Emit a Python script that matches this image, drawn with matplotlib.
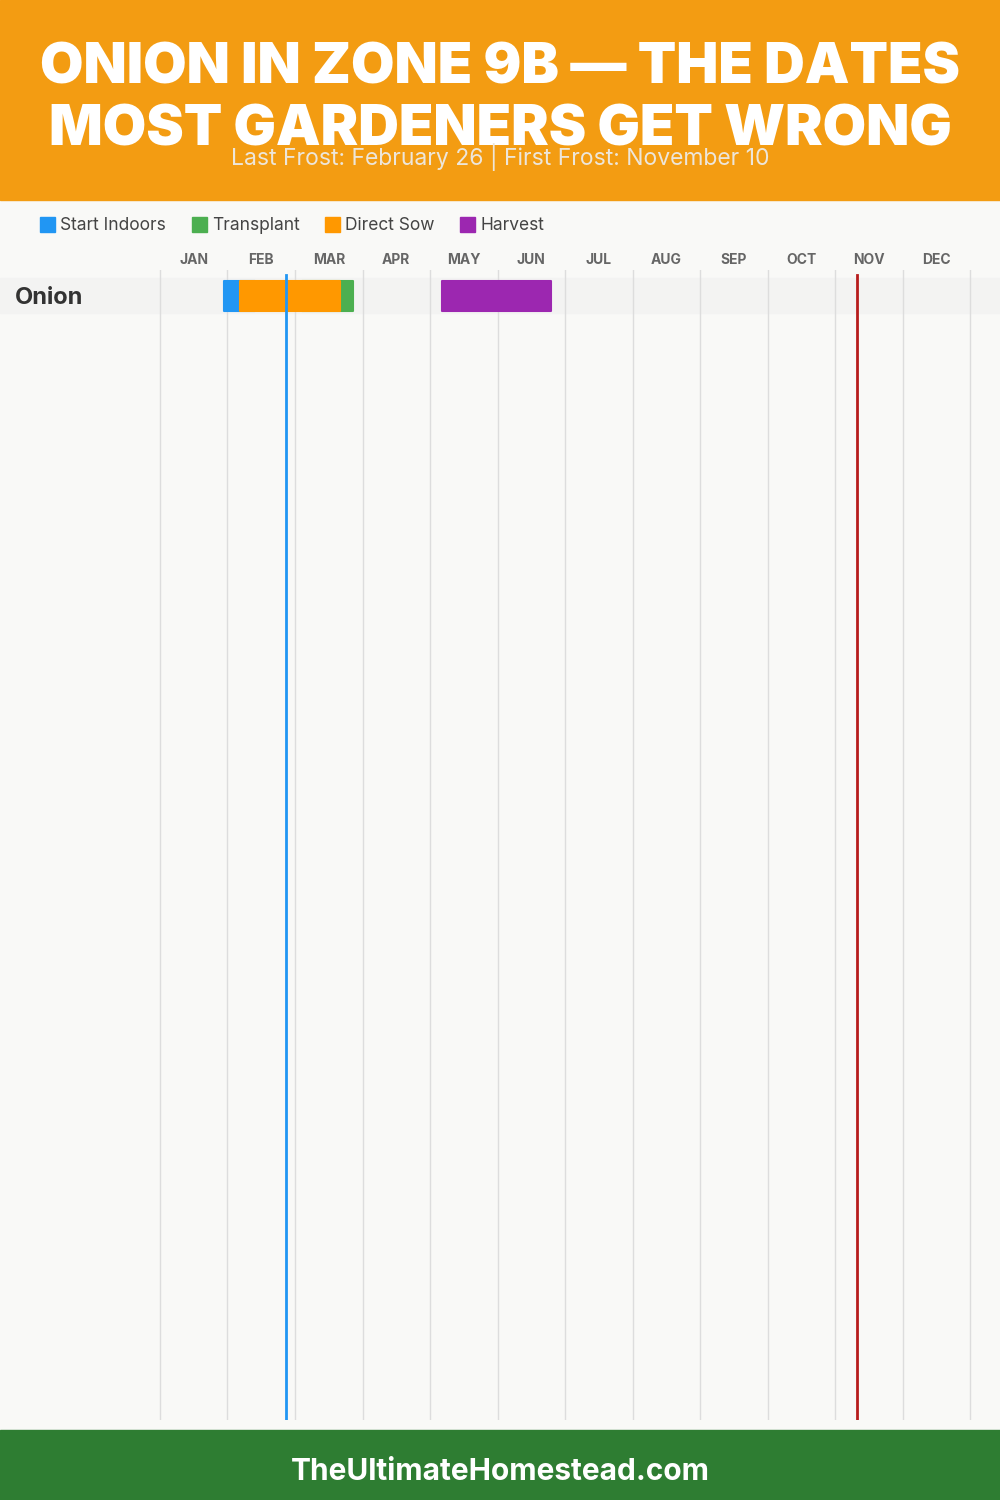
import matplotlib
matplotlib.use("Agg")
import matplotlib.pyplot as plt
from matplotlib.patches import Rectangle
import pandas as pd

# ---------------- data ----------------
crops = ["Onion"]
months = ["JAN", "FEB", "MAR", "APR", "MAY", "JUN", "JUL", "AUG", "SEP", "OCT", "NOV", "DEC"]
phases = ["Start Indoors", "Transplant", "Direct Sow", "Harvest"]
phase_colors = ["#2196F3", "#4CAF50", "#FF9800", "#9C27B0"]
start_indoors = [("2023-01-29", "2023-02-12")]
transplant = [("2023-03-05", "2023-03-28")]
direct_sow = [("2023-02-05", "2023-03-22")]
harvest = [("2023-05-07", "2023-06-25")]
last_frost = "2023-02-26"
first_frost = "2023-11-10"
title_lines = ["ONION IN ZONE 9B — THE DATES", "MOST GARDENERS GET WRONG"]
subtitle = "Last Frost: February 26 | First Frost: November 10"
footer = "TheUltimateHomestead.com"

W, H = 1000, 1500
BG = "#F9F9F7"
HEADER = "#F39C12"
FOOTER = "#2E7D32"
FONT = "Inter"

def doy(s):
    return pd.Timestamp(s).dayofyear

fig = plt.figure(figsize=(W / 100, H / 100), dpi=100, facecolor=BG)

def fy(py):
    return 1 - py / H

# header / footer bands
fig.add_artist(Rectangle((0, fy(200)), 1, 200 / H, transform=fig.transFigure,
                         color=HEADER, zorder=0))
fig.add_artist(Rectangle((0, 0), 1, 70 / H, transform=fig.transFigure,
                         color=FOOTER, zorder=0))

fig.text(0.5, fy(69), title_lines[0], ha="center", va="center", color="white",
         fontsize=40.5, fontweight="black", family=FONT)
fig.text(0.5, fy(130), title_lines[1], ha="center", va="center", color="white",
         fontsize=40.5, fontweight="black", family=FONT)
fig.text(0.5, fy(157), subtitle, ha="center", va="center", color="#EDE6DA",
         fontsize=16.5, family=FONT)
fig.text(0.5, fy(1472), footer, ha="center", va="center", color="white",
         fontsize=21.5, fontweight="bold", family=FONT)

# legend
leg_x = [40, 192, 325, 460]
for x, lab, col in zip(leg_x, phases, phase_colors):
    fig.add_artist(Rectangle((x / W, fy(232)), 15 / W, 15 / H, transform=fig.transFigure,
                             color=col, zorder=2))
    fig.text((x + 20) / W, fy(226), lab, ha="left", va="center", color="#444444",
             fontsize=12.5, family=FONT)

# chart axes
top_px, bot_px = 270, 1420
ax = fig.add_axes([0, fy(bot_px), 1, (bot_px - top_px) / H])
ax.set_facecolor(BG)
for s in ax.spines.values():
    s.set_visible(False)

row_px = 35.0
ax.set_xlim(-160 / 810 * 365, 365 + 30 / 810 * 365)
ax.set_ylim((bot_px - top_px - 25.5) / row_px, -25.5 / row_px)

mw = 365 / 12
ax.set_xticks([i * mw for i in range(13)])
ax.set_xticks([(i + 0.5) * mw for i in range(12)], minor=True)
ax.set_xticklabels([])
ax.set_xticklabels(months, minor=True, fontsize=10, fontweight="bold",
                   color="#666666", family=FONT)
ax.xaxis.tick_top()
ax.tick_params(axis="x", which="both", length=0, pad=2)
ax.grid(axis="x", which="major", color="#DDDDDD", linewidth=1)
ax.set_axisbelow(True)
ax.set_yticks([])

# row band and label
for i, crop in enumerate(crops):
    ax.axhspan(i - 0.5, i + 0.5, color="#F3F3F2", zorder=0.5)
    ax.text(15 / 810 * 365 - 160 / 810 * 365, i + 0.08, crop, ha="left", va="center",
            fontsize=17, fontweight="bold", color="#333333", family=FONT)

bar_h = 30 / row_px
series = [start_indoors, transplant, direct_sow, harvest]
for data, col in zip(series, phase_colors):
    for i, (a, b) in enumerate(data):
        ax.barh(i, doy(b) - doy(a), left=doy(a), height=bar_h, color=col,
                edgecolor=col, linewidth=1.5, joinstyle="round", zorder=3)

ymax = (bot_px - 275) / (bot_px - top_px)
ax.axvline(doy(last_frost), ymin=0, ymax=ymax, color="#2196F3", linewidth=2, zorder=5)
ax.axvline(doy(first_frost), ymin=0, ymax=ymax, color="#B71C1C", linewidth=2, zorder=5)

fig.savefig("out.png", dpi=100, facecolor=BG)
